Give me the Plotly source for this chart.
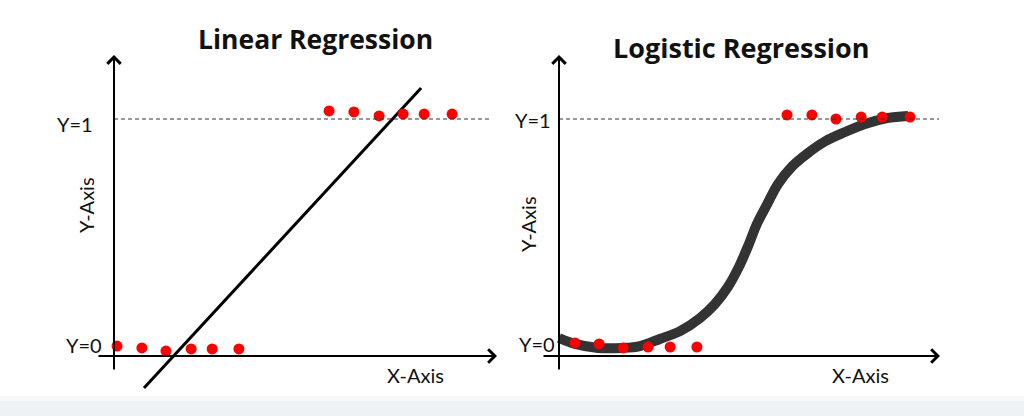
import plotly.graph_objects as go

W, H = 1024, 416

# ---------------- data (x in axis units, y where 0 / 1 are the two classes) -------------
lin_low_x = [0.08, 0.73, 1.36, 2.02, 2.57, 3.27]
lin_low_y = [0.042, 0.034, 0.021, 0.030, 0.030, 0.030]
lin_high_x = [5.63, 6.28, 6.94, 7.57, 8.12, 8.85]
lin_high_y = [1.034, 1.030, 1.013, 1.021, 1.021, 1.021]
lin_fit_x = [0.785, 8.04]
lin_fit_y = [-0.135, 1.131]

log_low_x = [0.42, 1.05, 1.68, 2.33, 2.91, 3.61]
log_low_y = [0.055, 0.051, 0.034, 0.038, 0.038, 0.038]
log_high_x = [5.97, 6.62, 7.25, 7.91, 8.46, 9.19]
log_high_y = [1.017, 1.017, 1.000, 1.008, 1.008, 1.008]
log_fit_x = [0.0, 0.42, 1.02, 1.65, 2.12, 2.64, 3.17, 3.69, 4.08, 4.42, 4.71, 4.95,
             5.18, 5.45, 5.73, 6.10, 6.52, 6.96, 7.49, 8.01, 8.59, 9.14]
log_fit_y = [0.076, 0.051, 0.034, 0.034, 0.042, 0.072, 0.105, 0.160, 0.219, 0.291,
             0.376, 0.464, 0.557, 0.641, 0.725, 0.800, 0.857, 0.905, 0.945, 0.979,
             1.004, 1.013]

titles = ["Linear Regression", "Logistic Regression"]
class_labels = ["Y=0", "Y=1"]
axis_titles = ["X-Axis", "Y-Axis"]

# ---------------- layout helpers (pixel geometry) ----------------
UX, UY = 38.2, 237.0          # pixels per data unit


def px(x):
    return x / W


def py(y):
    return 1 - y / H


def panel(left, right, top, bot, ox, oy):
    dom_x = [px(left), px(right)]
    dom_y = [py(bot), py(top)]
    rx = [(left - ox) / UX, (right - ox) / UX]
    ry = [(oy - bot) / UY, (oy - top) / UY]
    return dom_x, dom_y, rx, ry


def dx(p, ox):
    return (p - ox) / UX


def dy(p, oy):
    return (oy - p) / UY


L_OX, L_OY = 114, 356
R_OX, R_OY = 559, 356
ldx, ldy, lrx, lry = panel(80, 505, 30, 400, L_OX, L_OY)
rdx, rdy, rrx, rry = panel(525, 955, 30, 400, R_OX, R_OY)

fig = go.Figure()
RED = "#ff0000"
INK = "#111111"

# left panel
fig.add_trace(go.Scatter(x=lin_fit_x, y=lin_fit_y, mode="lines",
                         line=dict(color="#000000", width=3), xaxis="x", yaxis="y",
                         showlegend=False, hoverinfo="skip"))
fig.add_trace(go.Scatter(x=lin_low_x + lin_high_x, y=lin_low_y + lin_high_y, mode="markers",
                         marker=dict(color=RED, size=11, line=dict(width=0)),
                         xaxis="x", yaxis="y", showlegend=False))
# right panel
fig.add_trace(go.Scatter(x=log_fit_x, y=log_fit_y, mode="lines",
                         line=dict(color="#333333", width=10, shape="spline", smoothing=1.0),
                         xaxis="x2", yaxis="y2", showlegend=False, hoverinfo="skip"))
fig.add_trace(go.Scatter(x=log_low_x + log_high_x, y=log_low_y + log_high_y, mode="markers",
                         marker=dict(color=RED, size=11, line=dict(width=0)),
                         xaxis="x2", yaxis="y2", showlegend=False))

hidden = dict(showgrid=False, zeroline=False, showticklabels=False, showline=False,
              ticks="", fixedrange=True)
fig.update_layout(
    width=W, height=H,
    margin=dict(l=0, r=0, t=0, b=0),
    paper_bgcolor="white", plot_bgcolor="rgba(0,0,0,0)",
    xaxis=dict(domain=ldx, range=lrx, anchor="y", **hidden),
    yaxis=dict(domain=ldy, range=lry, anchor="x", **hidden),
    xaxis2=dict(domain=rdx, range=rrx, anchor="y2", **hidden),
    yaxis2=dict(domain=rdy, range=rry, anchor="x2", **hidden),
    font=dict(family="Lato, 'Open Sans', sans-serif", color=INK),
)

# bottom band
fig.add_shape(type="rect", xref="paper", yref="paper", x0=0, x1=1,
              y0=py(401), y1=py(396), fillcolor="#f6f7f9", line=dict(width=0), layer="below")
fig.add_shape(type="rect", xref="paper", yref="paper", x0=0, x1=1,
              y0=0, y1=py(401), fillcolor="#eef1f6", line=dict(width=0), layer="below")

# dashed Y=1 lines
fig.add_shape(type="line", xref="x", yref="y", x0=0, x1=dx(490, L_OX), y0=1, y1=1,
              line=dict(color="#333333", width=1, dash="4px,3px"))
fig.add_shape(type="line", xref="x2", yref="y2", x0=0, x1=dx(939, R_OX), y0=1, y1=1,
              line=dict(color="#333333", width=1, dash="4px,3px"))

ann = []


def arrow(xr, yr, x, y, ax, ay):
    ann.append(dict(xref=xr, yref=yr, axref=xr, ayref=yr, x=x, y=y, ax=ax, ay=ay,
                    text="", showarrow=True, arrowhead=4, arrowsize=1.3,
                    arrowwidth=2, arrowcolor="#000000"))


# axes drawn as arrows
arrow("x", "y", dx(497, L_OX), 0, dx(97, L_OX), 0)
arrow("x", "y", 0, dy(55, L_OY), 0, dy(371, L_OY))
arrow("x2", "y2", dx(940, R_OX), 0, dx(542, R_OX), 0)
arrow("x2", "y2", 0, dy(55, R_OY), 0, dy(371, R_OY))


def text(t, x, y, size, bold=False, angle=0, family=None):
    f = dict(size=size, color=INK)
    if family:
        f["family"] = family
    ann.append(dict(xref="paper", yref="paper", x=px(x), y=py(y), text=f"<b>{t}</b>" if bold else t,
                    showarrow=False, xanchor="center", yanchor="middle", textangle=angle,
                    font=f))


TF = "'Open Sans', sans-serif"
text(titles[0], 315, 39, 26.5, bold=True, family=TF)
text(titles[1], 741, 47, 27, bold=True, family=TF)

text(class_labels[1], 75, 124, 20)
text(class_labels[0], 84, 345, 20)
text(class_labels[1], 533, 120, 20)
text(class_labels[0], 537, 344, 20)

text(axis_titles[1], 86, 205, 20, angle=-90)
text(axis_titles[1], 528, 224, 20, angle=-90)
text(axis_titles[0], 415, 375, 20)
text(axis_titles[0], 860, 375, 20)

fig.update_layout(annotations=ann)
fig.write_html("out.html", config={"displayModeBar": False},
               post_script="document.body.style.margin='0';")
